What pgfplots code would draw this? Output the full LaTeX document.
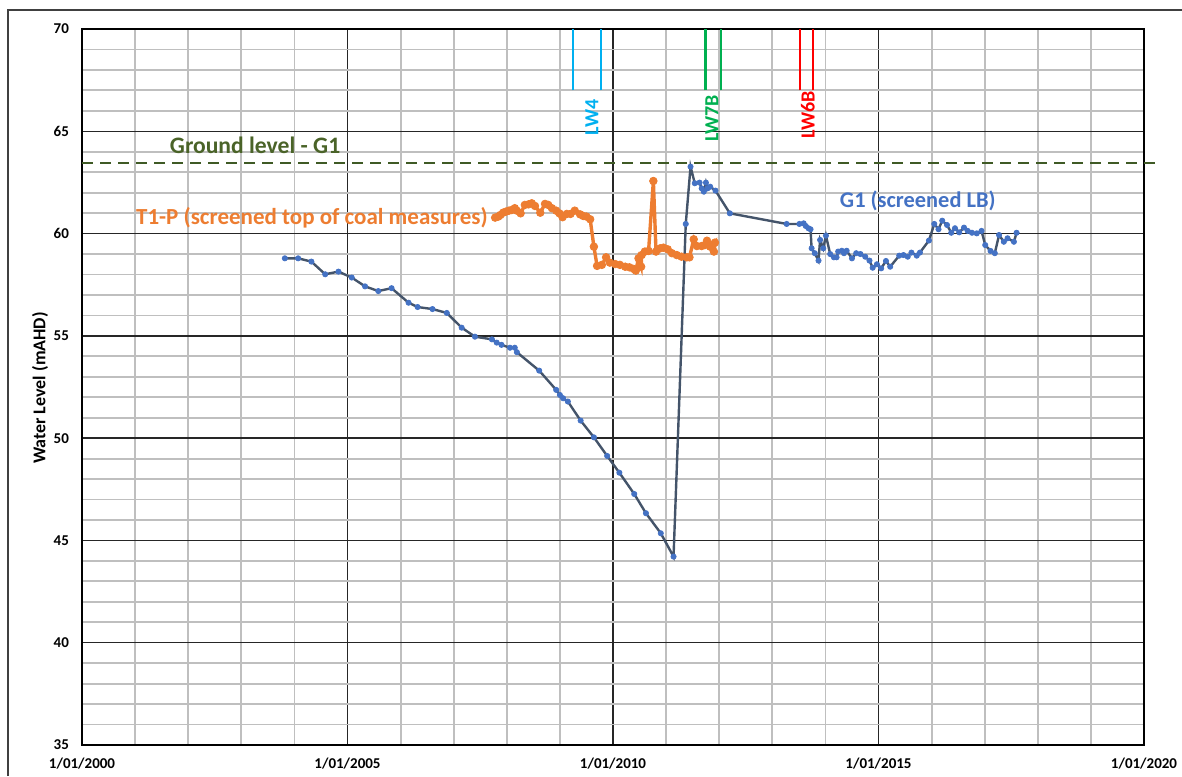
\documentclass[border=0pt]{standalone}
\usepackage{pgfplots}
\pgfplotsset{compat=1.18}
\usepackage{fontspec}
\setmainfont{Carlito}
\definecolor{gline}{HTML}{44546A}
\definecolor{gmark}{HTML}{4472C4}
\definecolor{tcol}{HTML}{ED7D31}
\definecolor{ground}{HTML}{3F5A25}
\definecolor{gtext}{HTML}{4A6328}
\definecolor{lwfour}{HTML}{00B0F0}
\definecolor{lwseven}{HTML}{00B050}
\definecolor{lwsix}{HTML}{FF0000}
\definecolor{mgrid}{HTML}{BFBFBF}
\pgfplotstableread{
x y
2003.82 58.79
2004.07 58.79
2004.32 58.63
2004.58 58.01
2004.83 58.14
2005.08 57.85
2005.33 57.42
2005.58 57.19
2005.83 57.33
2006.15 56.62
2006.32 56.41
2006.60 56.31
2006.87 56.12
2007.15 55.40
2007.40 54.96
2007.72 54.83
2007.81 54.67
2007.90 54.56
2008.06 54.42
2008.15 54.42
2008.19 54.20
2008.61 53.30
2008.93 52.36
2009.00 52.11
2009.06 51.95
2009.15 51.79
2009.39 50.86
2009.64 50.04
2009.89 49.13
2010.12 48.31
2010.40 47.27
2010.62 46.33
2010.90 45.35
2011.14 44.21
2011.37 60.47
2011.46 63.27
2011.54 62.46
2011.63 62.49
2011.67 62.21
2011.71 62.05
2011.75 62.49
2011.78 62.21
2011.83 62.29
2011.93 62.10
2012.20 60.99
2013.27 60.47
2013.51 60.47
2013.59 60.50
2013.63 60.37
2013.68 60.26
2013.72 60.21
2013.74 59.28
2013.80 59.04
2013.87 58.68
2013.90 59.69
2013.96 59.28
2014.01 59.90
2014.09 59.00
2014.16 58.84
2014.21 58.84
2014.24 59.12
2014.31 59.16
2014.35 59.04
2014.40 59.16
2014.50 58.79
2014.58 59.04
2014.66 59.00
2014.75 58.87
2014.83 58.68
2014.89 58.33
2014.97 58.50
2015.05 58.30
2015.14 58.66
2015.22 58.38
2015.39 58.92
2015.47 58.95
2015.55 58.87
2015.62 59.07
2015.72 58.92
2015.78 59.07
2015.95 59.66
2016.05 60.47
2016.13 60.21
2016.20 60.63
2016.29 60.42
2016.37 60.04
2016.44 60.26
2016.52 60.06
2016.61 60.29
2016.68 60.13
2016.76 60.04
2016.85 60.01
2016.94 60.13
2017.01 59.44
2017.11 59.15
2017.19 59.04
2017.27 59.93
2017.36 59.60
2017.43 59.77
2017.55 59.60
2017.60 60.04
}\gone
\pgfplotstableread{
x y
2007.78 60.78
2007.84 60.83
2007.88 60.91
2007.93 61.02
2007.98 61.07
2008.04 61.12
2008.09 61.15
2008.15 61.24
2008.19 61.12
2008.26 60.99
2008.34 61.40
2008.41 61.43
2008.47 61.48
2008.53 61.35
2008.63 61.02
2008.72 61.45
2008.78 61.40
2008.85 61.24
2008.93 61.12
2008.99 60.99
2009.05 60.80
2009.13 60.96
2009.20 60.96
2009.28 61.12
2009.38 60.94
2009.44 60.86
2009.50 60.83
2009.57 60.70
2009.64 59.36
2009.70 58.42
2009.79 58.47
2009.87 58.84
2009.94 58.58
2010.04 58.51
2010.13 58.47
2010.23 58.38
2010.31 58.35
2010.39 58.27
2010.43 58.19
2010.48 58.79
2010.53 58.38
2010.54 58.95
2010.60 59.12
2010.67 59.15
2010.76 62.57
2010.81 59.12
2010.89 59.28
2010.95 59.31
2011.03 59.23
2011.11 59.04
2011.20 58.95
2011.29 58.87
2011.39 58.84
2011.44 58.84
2011.52 59.72
2011.58 59.39
2011.67 59.39
2011.73 59.44
2011.77 59.65
2011.83 59.36
2011.88 59.44
2011.92 59.56
2011.90 59.12
}\tonep
\begin{document}
\begin{tikzpicture}[font=\fontsize{7.5}{9}\selectfont\bfseries]
\begin{axis}[
  scale only axis,
  width=531pt, height=358pt,
  at={(41pt,15.5pt)}, anchor=south west,
  xmin=2000, xmax=2020, ymin=35, ymax=70,
  xtick={2000,2005,2010,2015,2020},
  xticklabels={1/01/2000,1/01/2005,1/01/2010,1/01/2015,1/01/2020},
  ytick={35,40,45,50,55,60,65,70},
  minor x tick num=4, minor y tick num=4,
  major tick length=0pt, minor tick length=0pt,
  grid=both,
  major grid style={black!85, line width=0.7pt},
  minor grid style={mgrid, line width=0.9pt},
  axis line style={black, line width=0.9pt},
  xticklabel style={yshift=-3pt},
  yticklabel style={xshift=-3pt},
  /pgf/number format/assume math mode=true,
  clip=false,
]
% ground level
\addplot[ground, line width=1.4pt, dash pattern=on 5.5pt off 3.5pt] coordinates {(2000,63.45) (2020.25,63.45)};
% LW lines
\addplot[lwfour, line width=1.1pt] coordinates {(2009.24,67) (2009.24,70)};
\addplot[lwfour, line width=1.1pt] coordinates {(2009.77,67) (2009.77,70)};
\addplot[lwseven, line width=1.1pt] coordinates {(2011.74,67) (2011.74,70)};
\addplot[lwseven, line width=1.1pt] coordinates {(2012.03,67) (2012.03,70)};
\addplot[lwsix, line width=1.1pt] coordinates {(2013.52,67) (2013.52,70)};
\addplot[lwsix, line width=1.1pt] coordinates {(2013.77,67) (2013.77,70)};
% series
\addplot[tcol, line width=1.7pt, mark=*, mark size=1.9pt, mark options={fill=tcol, draw=tcol, line width=0.4pt}] table[x=x,y=y] {\tonep};
\addplot[gline, line width=1.2pt, mark=*, mark size=1.3pt, mark options={fill=gmark, draw=gmark, line width=0.4pt}] table[x=x,y=y] {\gone};
% labels
\node[lwfour, rotate=90, font=\fontsize{10}{11}\selectfont\bfseries] at (axis cs:2009.60,65.68) {LW4};
\node[lwseven, rotate=90, font=\fontsize{10}{11}\selectfont\bfseries] at (axis cs:2011.86,65.63) {LW7B};
\node[lwsix, rotate=90, font=\fontsize{10}{11}\selectfont\bfseries] at (axis cs:2013.67,65.80) {LW6B};
\node[gtext, font=\fontsize{11.8}{13}\selectfont\bfseries] at (axis cs:2003.26,64.33) {Ground level - G1};
\node[tcol, font=\fontsize{11.5}{13}\selectfont\bfseries] at (axis cs:2004.33,60.76) {T1-P (screened top of coal measures)};
\node[gmark, font=\fontsize{11.2}{13}\selectfont\bfseries] at (axis cs:2015.74,61.60) {G1 (screened LB)};
\end{axis}
\node[rotate=90, font=\fontsize{9}{10}\selectfont\bfseries] at (20pt,194pt) {Water Level (mAHD)};
\draw[black!75, line width=0.6pt] (4pt,0pt) -- (4pt,383pt) -- (591pt,383pt);
\pgfresetboundingbox
\path[use as bounding box] (0,0) rectangle (591pt,388pt);
\end{tikzpicture}
\end{document}
